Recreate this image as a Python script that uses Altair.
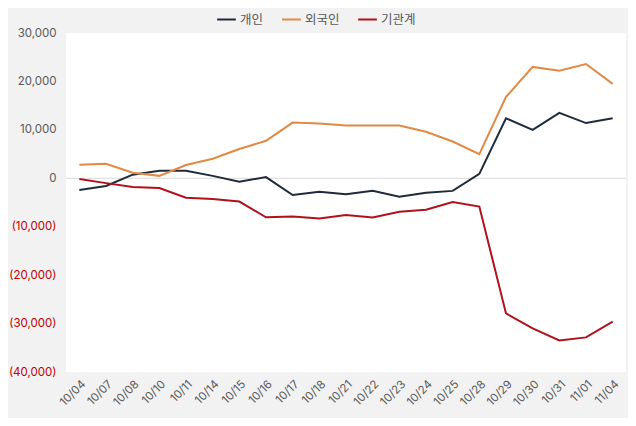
import altair as alt
import pandas as pd

dates = ["10/04", "10/07", "10/08", "10/10", "10/11", "10/14", "10/15", "10/16", "10/17", "10/18",
         "10/21", "10/22", "10/23", "10/24", "10/25", "10/28", "10/29", "10/30", "10/31", "11/01", "11/04"]
individual = [-2400, -1600, 750, 1550, 1550, 500, -700, 250, -3450, -2800,
              -3300, -2600, -3800, -3000, -2600, 900, 12400, 10000, 13500, 11400, 12400]
foreign = [2800, 3000, 1150, 500, 2750, 4050, 6050, 7750, 11500, 11300,
           10900, 10900, 10900, 9600, 7600, 5000, 16800, 23000, 22200, 23600, 19500]
institution = [-150, -1000, -1800, -2000, -4000, -4300, -4800, -8050, -7900, -8300,
               -7600, -8100, -6900, -6500, -4900, -5850, -27900, -31000, -33500, -32850, -29600]

series_names = ["개인", "외국인", "기관계"]
series_colors = ["#1f2a3a", "#e08a45", "#b0121b"]

rows = []
for name, vals in zip(series_names, [individual, foreign, institution]):
    for d, v in zip(dates, vals):
        rows.append({"date": d, "value": v, "series": name})
df = pd.DataFrame(rows)

FONT = "Noto Sans CJK KR"
NUMFONT = "Inter"

x = alt.X("date:N", sort=dates, title=None,
          scale=alt.Scale(paddingInner=0, paddingOuter=0.5),
          axis=alt.Axis(labelAngle=-45, labelColor="#595959", labelFontSize=11.5,
                        ticks=False, domain=False, labelPadding=6, labelFont=NUMFONT))

y_scale = alt.Scale(domain=[-40000, 30000], nice=False, zero=False)
y_axis = alt.Axis(values=[-40000, -30000, -20000, -10000, 0, 10000, 20000, 30000],
                  labelExpr="datum.value < 0 ? '(' + format(-datum.value, ',') + ')' : format(datum.value, ',')",
                  labelColor=alt.condition("datum.value < 0", alt.value("#c00000"), alt.value("#595959")),
                  labelFontSize=11.5, labelFont=NUMFONT, ticks=False, domain=False, grid=False,
                  labelPadding=10)

lines = alt.Chart(df).mark_line(strokeWidth=2).encode(
    x=x,
    y=alt.Y("value:Q", title=None, scale=y_scale, axis=y_axis),
    color=alt.Color("series:N",
                    scale=alt.Scale(domain=series_names, range=series_colors),
                    legend=alt.Legend(title=None, orient="none", direction="horizontal",
                                      legendX=150, legendY=-24, symbolType="stroke",
                                      symbolStrokeWidth=2, symbolSize=350, labelColor="#595959",
                                      labelFontSize=12.5, labelFont=FONT, columnPadding=14,
                                      labelOffset=3)),
    detail="series:N",
)

zero = alt.Chart(pd.DataFrame({"value": [0]})).mark_rule(color="#d9d9d9", strokeWidth=1).encode(
    y=alt.Y("value:Q", title=None, scale=y_scale, axis=y_axis)
)

chart = alt.layer(zero, lines).properties(
    width=560, height=339,
    background="#f2f2f2",
    padding={"left": 58, "top": 25, "right": 2, "bottom": 46},
    autosize=alt.AutoSizeParams(type="none"),
).configure_view(fill="white", stroke=None)

chart.save("out.html", embed_options={"renderer": "svg", "actions": False})
